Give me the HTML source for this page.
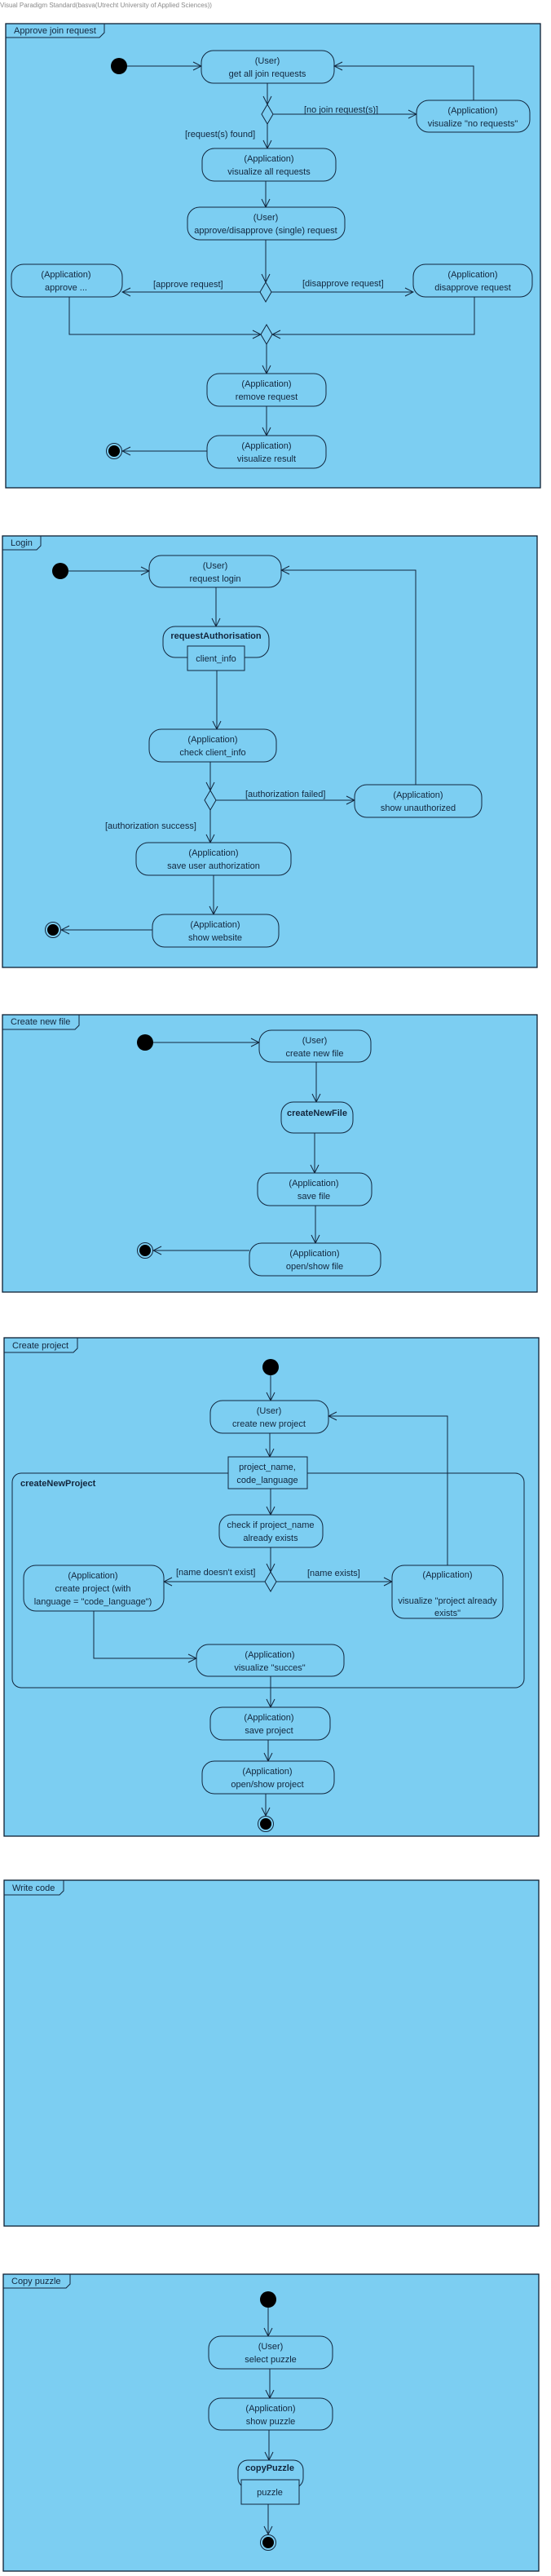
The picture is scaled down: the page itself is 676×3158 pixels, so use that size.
<!DOCTYPE html>
<html><head><meta charset="utf-8"><style>
html,body{margin:0;padding:0;background:#fff;}
svg{display:block;}
text{font-family:"Liberation Sans",sans-serif;font-size:11px;fill:#12263d;}
.c{text-anchor:middle;}
.b{font-weight:bold;}
.f{fill:#7ccef2;stroke:#0d1f33;stroke-width:1.3;}
.n{fill:#7ccef2;stroke:#12263d;stroke-width:1;}
.l{fill:none;stroke:#12263d;stroke-width:1;}
</style></head><body>
<svg width="676" height="3158" viewBox="0 0 676 3158" xmlns="http://www.w3.org/2000/svg">
<defs>
<marker id="a" markerWidth="12" markerHeight="12" refX="11" refY="6" orient="auto" markerUnits="userSpaceOnUse">
<path d="M1,1 L11,6 L1,11" fill="none" stroke="#12263d" stroke-width="1"/>
</marker>
</defs>
<text x="0" y="9" style="font-size:8px;fill:#8a8a8a">Visual Paradigm Standard(basva(Utrecht University of Applied Sciences))</text>

<!-- Section 1 -->
<rect class="f" x="7" y="29" width="656" height="569"/>
<path class="l" d="M7,46 H122 L128,40 V29"/>
<text x="17" y="41">Approve join request</text>
<circle cx="146" cy="81" r="10" fill="#000"/>
<line class="l" x1="156" y1="81" x2="247" y2="81" marker-end="url(#a)"/>
<rect class="n" x="247" y="62" width="163" height="40" rx="15"/>
<text class="c" x="328" y="78">(User)</text><text class="c" x="328" y="94">get all join requests</text>
<line class="l" x1="328" y1="102" x2="328" y2="128" marker-end="url(#a)"/>
<path class="n" d="M328,128 L335,140 L328,152 L321,140 Z"/>
<line class="l" x1="335" y1="140" x2="511" y2="140" marker-end="url(#a)"/>
<text x="373" y="138">[no join request(s)]</text>
<rect class="n" x="511" y="123" width="139" height="39" rx="15"/>
<text class="c" x="580" y="139">(Application)</text><text class="c" x="580" y="155">visualize "no requests"</text>
<path class="l" d="M581,123 V81 H410" marker-end="url(#a)"/>
<line class="l" x1="328" y1="152" x2="328" y2="182" marker-end="url(#a)"/>
<text x="227" y="168">[request(s) found]</text>
<rect class="n" x="248" y="182" width="164" height="40" rx="15"/>
<text class="c" x="330" y="198">(Application)</text><text class="c" x="330" y="214">visualize all requests</text>
<line class="l" x1="326" y1="222" x2="326" y2="254" marker-end="url(#a)"/>
<rect class="n" x="230" y="254" width="193" height="40" rx="15"/>
<text class="c" x="326" y="270">(User)</text><text class="c" x="326" y="286">approve/disapprove (single) request</text>
<line class="l" x1="326" y1="294" x2="326" y2="346" marker-end="url(#a)"/>
<path class="n" d="M326,346 L333,358 L326,370 L319,358 Z"/>
<line class="l" x1="319" y1="358" x2="150" y2="358" marker-end="url(#a)"/>
<line class="l" x1="333" y1="358" x2="507" y2="358" marker-end="url(#a)"/>
<text x="188" y="352">[approve request]</text>
<text x="371" y="351">[disapprove request]</text>
<rect class="n" x="14" y="324" width="136" height="40" rx="15"/>
<text class="c" x="81" y="340">(Application)</text><text class="c" x="81" y="356">approve ...</text>
<rect class="n" x="507" y="324" width="146" height="40" rx="15"/>
<text class="c" x="580" y="340">(Application)</text><text class="c" x="580" y="356">disapprove request</text>
<path class="n" d="M327,398 L334,410 L327,422 L320,410 Z"/>
<path class="l" d="M85,364 V410 H320" marker-end="url(#a)"/>
<path class="l" d="M582,364 V410 H334" marker-end="url(#a)"/>
<line class="l" x1="327" y1="422" x2="327" y2="458" marker-end="url(#a)"/>
<rect class="n" x="254" y="458" width="146" height="40" rx="15"/>
<text class="c" x="327" y="474">(Application)</text><text class="c" x="327" y="490">remove request</text>
<line class="l" x1="327" y1="498" x2="327" y2="534" marker-end="url(#a)"/>
<rect class="n" x="254" y="534" width="146" height="40" rx="15"/>
<text class="c" x="327" y="550">(Application)</text><text class="c" x="327" y="566">visualize result</text>
<line class="l" x1="254" y1="553" x2="150" y2="553" marker-end="url(#a)"/>
<circle cx="140" cy="553" r="9.5" fill="none" stroke="#12263d"/><circle cx="140" cy="553" r="7" fill="#000"/>

<!-- Section 2 -->
<rect class="f" x="3" y="657" width="656" height="529"/>
<path class="l" d="M3,674 H45 L50,669 V657"/>
<text x="13" y="669">Login</text>
<circle cx="74" cy="700" r="10" fill="#000"/>
<line class="l" x1="84" y1="700" x2="183" y2="700" marker-end="url(#a)"/>
<rect class="n" x="183" y="681" width="162" height="39" rx="15"/>
<text class="c" x="264" y="697">(User)</text><text class="c" x="264" y="713">request login</text>
<line class="l" x1="265" y1="720" x2="265" y2="768" marker-end="url(#a)"/>
<rect class="n" x="200" y="768" width="130" height="38" rx="15"/>
<text class="c b" x="265" y="783">requestAuthorisation</text>
<rect class="n" x="230" y="792" width="70" height="30"/>
<text class="c" x="265" y="811">client_info</text>
<line class="l" x1="266" y1="822" x2="266" y2="894" marker-end="url(#a)"/>
<rect class="n" x="183" y="894" width="156" height="40" rx="15"/>
<text class="c" x="261" y="910">(Application)</text><text class="c" x="261" y="926">check client_info</text>
<line class="l" x1="258" y1="934" x2="258" y2="969" marker-end="url(#a)"/>
<path class="n" d="M258,969 L265,981 L258,993 L251,981 Z"/>
<line class="l" x1="265" y1="981" x2="435" y2="981" marker-end="url(#a)"/>
<text x="301" y="977">[authorization failed]</text>
<rect class="n" x="435" y="962" width="156" height="40" rx="15"/>
<text class="c" x="513" y="978">(Application)</text><text class="c" x="513" y="994">show unauthorized</text>
<path class="l" d="M510,962 V699 H345" marker-end="url(#a)"/>
<line class="l" x1="258" y1="993" x2="258" y2="1033" marker-end="url(#a)"/>
<text x="129" y="1016">[authorization success]</text>
<rect class="n" x="167" y="1033" width="190" height="40" rx="15"/>
<text class="c" x="262" y="1049">(Application)</text><text class="c" x="262" y="1065">save user authorization</text>
<line class="l" x1="262" y1="1073" x2="262" y2="1121" marker-end="url(#a)"/>
<rect class="n" x="187" y="1121" width="155" height="40" rx="15"/>
<text class="c" x="264" y="1137">(Application)</text><text class="c" x="264" y="1153">show website</text>
<line class="l" x1="187" y1="1140" x2="75" y2="1140" marker-end="url(#a)"/>
<circle cx="65" cy="1140" r="9.5" fill="none" stroke="#12263d"/><circle cx="65" cy="1140" r="7" fill="#000"/>

<!-- Section 3 -->
<rect class="f" x="3" y="1244" width="656" height="340"/>
<path class="l" d="M3,1262 H92 L97,1257 V1244"/>
<text x="13" y="1256">Create new file</text>
<circle cx="178" cy="1278" r="10" fill="#000"/>
<line class="l" x1="188" y1="1278" x2="318" y2="1278" marker-end="url(#a)"/>
<rect class="n" x="318" y="1263" width="137" height="39" rx="15"/>
<text class="c" x="386" y="1279">(User)</text><text class="c" x="386" y="1295">create new file</text>
<line class="l" x1="388" y1="1302" x2="388" y2="1351" marker-end="url(#a)"/>
<rect class="n" x="345" y="1351" width="88" height="38" rx="15"/>
<text class="c b" x="389" y="1368">createNewFile</text>
<line class="l" x1="386" y1="1389" x2="386" y2="1438" marker-end="url(#a)"/>
<rect class="n" x="316" y="1438" width="140" height="40" rx="15"/>
<text class="c" x="385" y="1454">(Application)</text><text class="c" x="385" y="1470">save file</text>
<line class="l" x1="387" y1="1478" x2="387" y2="1524" marker-end="url(#a)"/>
<rect class="n" x="306" y="1524" width="161" height="40" rx="15"/>
<text class="c" x="386" y="1540">(Application)</text><text class="c" x="386" y="1556">open/show file</text>
<line class="l" x1="306" y1="1533" x2="188" y2="1533" marker-end="url(#a)"/>
<circle cx="178" cy="1533" r="9.5" fill="none" stroke="#12263d"/><circle cx="178" cy="1533" r="7" fill="#000"/>

<!-- Section 4 -->
<rect class="f" x="5" y="1640" width="656" height="611"/>
<path class="l" d="M5,1658 H90 L95,1653 V1640"/>
<text x="15" y="1653">Create project</text>
<circle cx="332" cy="1676" r="10" fill="#000"/>
<line class="l" x1="332" y1="1686" x2="332" y2="1717" marker-end="url(#a)"/>
<rect class="n" x="258" y="1717" width="145" height="40" rx="15"/>
<text class="c" x="330" y="1733">(User)</text><text class="c" x="330" y="1749">create new project</text>
<rect class="n" x="15" y="1806" width="628" height="263" rx="11"/>
<text class="b" x="25" y="1822">createNewProject</text>
<line class="l" x1="331" y1="1757" x2="331" y2="1786" marker-end="url(#a)"/>
<rect class="n" x="280" y="1786" width="97" height="39"/>
<text class="c" x="328" y="1802">project_name,</text><text class="c" x="328" y="1818">code_language</text>
<line class="l" x1="332" y1="1825" x2="332" y2="1857" marker-end="url(#a)"/>
<rect class="n" x="269" y="1857" width="127" height="40" rx="15"/>
<text class="c" x="332" y="1873">check if project_name</text><text class="c" x="332" y="1889">already exists</text>
<line class="l" x1="332" y1="1897" x2="332" y2="1927" marker-end="url(#a)"/>
<path class="n" d="M332,1927 L339,1939 L332,1951 L325,1939 Z"/>
<line class="l" x1="325" y1="1939" x2="201" y2="1939" marker-end="url(#a)"/>
<line class="l" x1="339" y1="1939" x2="481" y2="1939" marker-end="url(#a)"/>
<text x="216" y="1931">[name doesn't exist]</text>
<text x="377" y="1932">[name exists]</text>
<rect class="n" x="29" y="1919" width="172" height="56" rx="15"/>
<text class="c" x="114" y="1935">(Application)</text><text class="c" x="114" y="1951">create project (with</text><text class="c" x="114" y="1967">language = "code_language")</text>
<rect class="n" x="481" y="1919" width="136" height="65" rx="15"/>
<text class="c" x="549" y="1934">(Application)</text><text class="c" x="549" y="1966">visualize "project already</text><text class="c" x="549" y="1981">exists"</text>
<path class="l" d="M549,1919 V1736 H403" marker-end="url(#a)"/>
<path class="l" d="M115,1975 V2033 H241" marker-end="url(#a)"/>
<rect class="n" x="241" y="2016" width="181" height="39" rx="15"/>
<text class="c" x="331" y="2032">(Application)</text><text class="c" x="331" y="2048">visualize "succes"</text>
<line class="l" x1="332" y1="2055" x2="332" y2="2093" marker-end="url(#a)"/>
<rect class="n" x="258" y="2093" width="147" height="40" rx="15"/>
<text class="c" x="330" y="2109">(Application)</text><text class="c" x="330" y="2125">save project</text>
<line class="l" x1="329" y1="2133" x2="329" y2="2159" marker-end="url(#a)"/>
<rect class="n" x="248" y="2159" width="162" height="40" rx="15"/>
<text class="c" x="328" y="2175">(Application)</text><text class="c" x="328" y="2191">open/show project</text>
<line class="l" x1="326" y1="2199" x2="326" y2="2226" marker-end="url(#a)"/>
<circle cx="326" cy="2236" r="9.5" fill="none" stroke="#12263d"/><circle cx="326" cy="2236" r="7" fill="#000"/>

<!-- Section 5 -->
<rect class="f" x="5" y="2305" width="656" height="424"/>
<path class="l" d="M5,2323 H73 L78,2318 V2305"/>
<text x="15" y="2318">Write code</text>

<!-- Section 6 -->
<rect class="f" x="4" y="2788" width="657" height="364"/>
<path class="l" d="M4,2805 H81 L86,2800 V2788"/>
<text x="14" y="2800">Copy puzzle</text>
<circle cx="329" cy="2819" r="10" fill="#000"/>
<line class="l" x1="329" y1="2829" x2="329" y2="2864" marker-end="url(#a)"/>
<rect class="n" x="256" y="2864" width="152" height="40" rx="15"/>
<text class="c" x="332" y="2880">(User)</text><text class="c" x="332" y="2896">select puzzle</text>
<line class="l" x1="331" y1="2904" x2="331" y2="2940" marker-end="url(#a)"/>
<rect class="n" x="256" y="2940" width="152" height="39" rx="15"/>
<text class="c" x="332" y="2956">(Application)</text><text class="c" x="332" y="2972">show puzzle</text>
<line class="l" x1="330" y1="2979" x2="330" y2="3016" marker-end="url(#a)"/>
<rect class="n" x="292" y="3016" width="80" height="34" rx="12"/>
<text class="c b" x="331" y="3029">copyPuzzle</text>
<rect class="n" x="296" y="3040" width="71" height="30"/>
<text class="c" x="331" y="3059">puzzle</text>
<line class="l" x1="329" y1="3070" x2="329" y2="3107" marker-end="url(#a)"/>
<circle cx="329" cy="3117" r="9.5" fill="none" stroke="#12263d"/><circle cx="329" cy="3117" r="7" fill="#000"/>
</svg>
</body></html>
